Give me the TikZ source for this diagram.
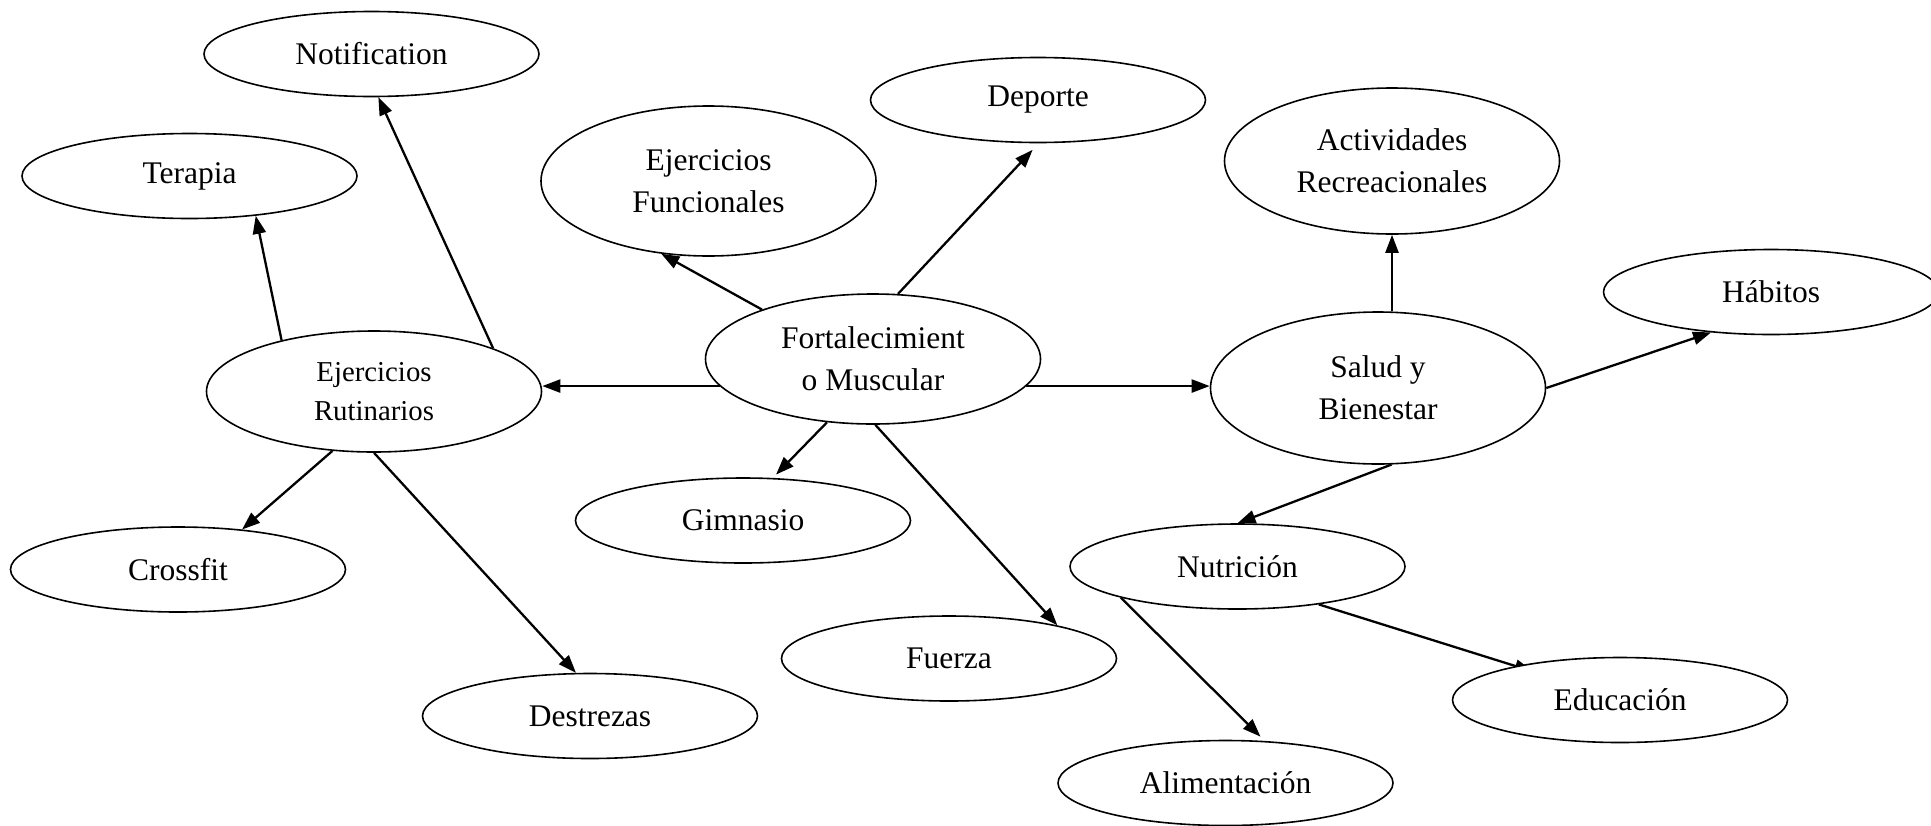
\documentclass[tikz,border=0pt]{standalone}
\usepackage{fontspec}
\setmainfont{Liberation Serif}
\usetikzlibrary{shapes.geometric,arrows.meta,backgrounds}

\tikzset{
  bubble/.style={draw,ellipse,line width=0.8pt,fill=white,inner sep=0pt,align=center,
    minimum width=167.5pt,minimum height=42.5pt,font=\fontsize{15.75}{21}\selectfont},
  link/.style={-{Triangle[length=9pt,width=6.5pt]},line width=1.15pt}
}

\begin{document}
\begin{tikzpicture}[x=0.5pt,y=-0.5pt]
\useasboundingbox (0,0) rectangle (1931,825);
\node[bubble] (notif) at (371.5,54) {Notification};
\node[bubble] (terapia) at (189.5,176) {Terapia};
\node[bubble,minimum height=75pt] (ejfun) at (708.5,181) {Ejercicios\\Funcionales};
\node[bubble] (deporte) at (1038,100) {Deporte};
\node[bubble,minimum height=73pt] (activ) at (1392,161) {Actividades\\Recreacionales};
\node[bubble] (habitos) at (1771,292) {Hábitos};
\node[bubble,minimum height=60.5pt,font=\fontsize{14.4}{19.5}\selectfont] (rutin) at (374,391.5) {Ejercicios\\Rutinarios};
\node[bubble,minimum height=65pt] (fort) at (873,359) {Fortalecimient\\o Muscular};
\node[bubble,minimum height=76pt] (salud) at (1378,388) {Salud y\\Bienestar};
\node[bubble] (gimn) at (743,520.5) {Gimnasio};
\node[bubble] (cross) at (178,569.5) {Crossfit};
\node[bubble] (nutr) at (1237.5,566.5) {Nutrición};
\node[bubble] (fuerza) at (949,658.5) {Fuerza};
\node[bubble] (destr) at (590,716) {Destrezas};
\node[bubble] (edu) at (1620,700) {Educación};
\node[bubble] (alim) at (1225.5,783) {Alimentación};
\begin{scope}[on background layer]
\draw[link] (rutin.20) -- (notif.-81);
\draw[link] (rutin.151) -- (terapia.-31);
\draw[link] (fort.156) -- (ejfun.-123);
\draw[link,shorten >=4.5pt] (fort.69) -- (deporte.-89);
\draw[link] (fort.190) -- (rutin.east |- fort.190);
\draw[link] (fort.-10) -- (salud.west |- fort.-10);
\draw[link] (salud.north -| activ.south) -- (activ.south);
\draw[link] (salud.east) -- (habitos.-146);
\draw[link] (salud.-80) -- (nutr.north);
\draw[link,shorten >=3pt] (nutr.-165) -- (alim.47);
\draw[link,shorten >=-9pt] (nutr.-25) -- (edu.162);
\draw[link,shorten >=2.3pt] (fort.-126) -- (gimn.55);
\draw[link] (fort.-88) -- (fuerza.17);
\draw[link] (rutin.-125) -- (cross.32);
\draw[link] (rutin.south) -- (destr.108);
\end{scope}
\end{tikzpicture}
\end{document}
